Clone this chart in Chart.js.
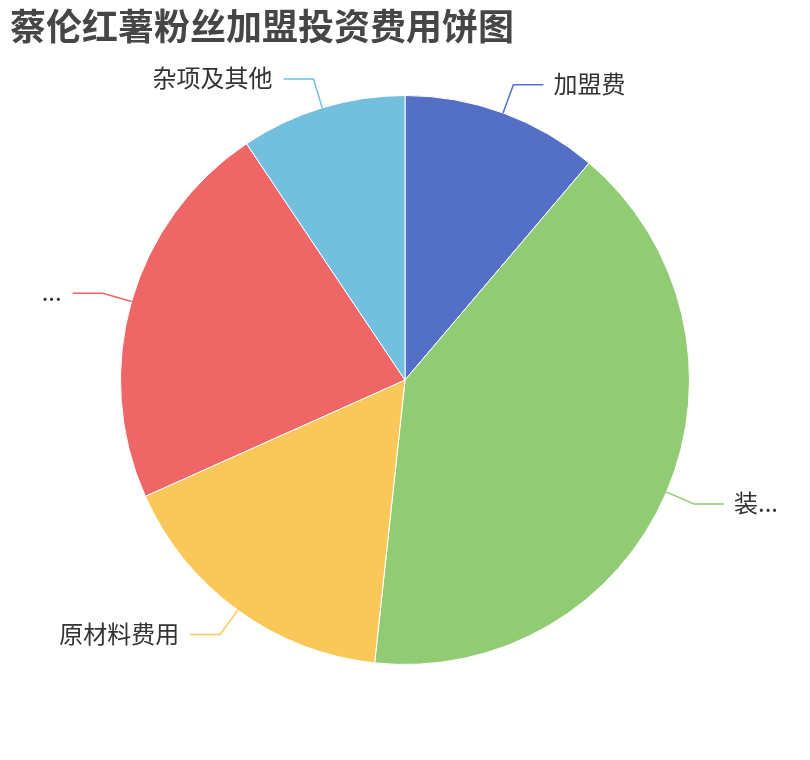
<!DOCTYPE html>
<html>
<head>
<meta charset="utf-8">
<script src="https://cdn.jsdelivr.net/npm/chart.js@4.4.1/dist/chart.umd.min.js"></script>
<style>
  html, body { margin: 0; padding: 0; background: #fff; }
  #wrap { width: 810px; height: 760px; }
</style>
</head>
<body>
<div id="wrap"><canvas id="pieChart" width="810" height="760"></canvas></div>
<script>
const chartTitle = "蔡伦红薯粉丝加盟投资费用饼图";
// labels as they appear (long ones are cut off in the picture)
const labels = ["加盟费", "装...", "原材料费用", "...", "杂项及其他"];
const values = [11.2, 40.5, 16.6, 22.3, 9.4];
const colors = ["#5470c6", "#91cc75", "#fac858", "#ee6666", "#73c0de"];

const FONT = '"Noto Sans CJK SC", "Noto Sans", sans-serif';

// title + outside labels with leader lines
const pieLabels = {
  id: "pieLabels",
  afterDraw(chart) {
    const ctx = chart.ctx;
    ctx.save();
    ctx.fillStyle = "#464646";
    ctx.font = "bold 36px " + FONT;
    ctx.textAlign = "left";
    ctx.textBaseline = "middle";
    ctx.fillText(chartTitle, 10, 26);

    const meta = chart.getDatasetMeta(0);
    ctx.font = "24px " + FONT;
    meta.data.forEach((arc, i) => {
      const p = arc.getProps(["x", "y", "startAngle", "endAngle", "outerRadius"], true);
      const mid = (p.startAngle + p.endAngle) / 2;
      const r = p.outerRadius;
      const x1 = p.x + Math.cos(mid) * r, y1 = p.y + Math.sin(mid) * r;
      const x2 = p.x + Math.cos(mid) * (r + 30), y2 = p.y + Math.sin(mid) * (r + 30);
      const right = Math.cos(mid) >= 0;
      const x3 = x2 + (right ? 30 : -30);
      ctx.strokeStyle = colors[i];
      ctx.lineWidth = 1.5;
      ctx.beginPath();
      ctx.moveTo(x1, y1);
      ctx.lineTo(x2, y2);
      ctx.lineTo(x3, y2);
      ctx.stroke();
      ctx.fillStyle = "#333";
      ctx.textAlign = right ? "left" : "right";
      ctx.textBaseline = "middle";
      ctx.fillText(labels[i], x3 + (right ? 10 : -11), y2 - 1);
    });
    ctx.restore();
  }
};

new Chart(document.getElementById("pieChart"), {
  type: "pie",
  data: {
    labels: labels,
    datasets: [{
      data: values,
      backgroundColor: colors,
      borderColor: "#ffffff",
      borderWidth: 1,
      hoverOffset: 0
    }]
  },
  options: {
    responsive: false,
    animation: false,
    events: [],
    layout: { padding: { top: 95, bottom: 95, left: 0, right: 0 } },
    plugins: {
      legend: { display: false },
      tooltip: { enabled: false },
      title: { display: false }
    }
  },
  plugins: [pieLabels]
});
</script>
</body>
</html>
